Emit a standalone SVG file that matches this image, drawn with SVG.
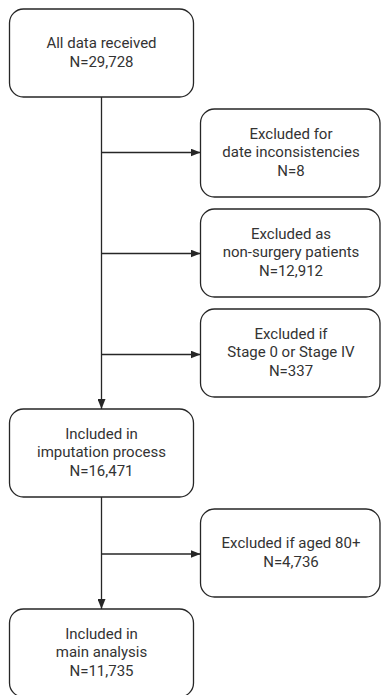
<svg xmlns="http://www.w3.org/2000/svg" width="381" height="695" viewBox="0 0 381 695">
<style>
.box{fill:#fff;stroke:#262626;stroke-width:1.3}
.t{font-family:Roboto,"Open Sans",sans-serif;font-size:15px;fill:#333;text-anchor:middle}
.c{fill:none;stroke:#262626;stroke-width:1.3}
</style>
<defs>
<marker id="ah" viewBox="0 0 10 8" refX="10" refY="4" markerWidth="10" markerHeight="8" markerUnits="userSpaceOnUse" orient="auto">
<path d="M0,0 L10,4 L0,8 Z" fill="#262626"/>
</marker>
</defs>
<rect width="381" height="695" fill="#fff"/>
<g id="connectors">
<path class="c" d="M101.5,97 V409" marker-end="url(#ah)"/>
<path class="c" d="M101.5,152.5 H200.5" marker-end="url(#ah)"/>
<path class="c" d="M101.5,253.5 H200.5" marker-end="url(#ah)"/>
<path class="c" d="M101.5,354.5 H200.5" marker-end="url(#ah)"/>
<path class="c" d="M101.5,497 V609" marker-end="url(#ah)"/>
<path class="c" d="M101.5,554 H200.5" marker-end="url(#ah)"/>
</g>
<g id="n1">
<rect class="box" x="9.5" y="9" width="184" height="88" rx="14"/>
<text class="t" x="101.5" y="48">All data received</text>
<text class="t" x="101.5" y="67">N=29,728</text>
</g>
<g id="n2">
<rect class="box" x="200.5" y="109" width="179.5" height="88" rx="14"/>
<text class="t" x="291" y="138.5">Excluded for</text>
<text class="t" x="291" y="157">date inconsistencies</text>
<text class="t" x="291" y="175.5">N=8</text>
</g>
<g id="n3">
<rect class="box" x="200.5" y="209" width="179.5" height="88" rx="14"/>
<text class="t" x="291" y="238.5">Excluded as</text>
<text class="t" x="291" y="257">non-surgery patients</text>
<text class="t" x="291" y="275.5">N=12,912</text>
</g>
<g id="n4">
<rect class="box" x="200.5" y="309" width="179.5" height="88" rx="14"/>
<text class="t" x="291" y="338.5">Excluded if</text>
<text class="t" x="291" y="357">Stage 0 or Stage IV</text>
<text class="t" x="291" y="375.5">N=337</text>
</g>
<g id="n5">
<rect class="box" x="9.5" y="409" width="184" height="88" rx="14"/>
<text class="t" x="101.5" y="438.5">Included in</text>
<text class="t" x="101.5" y="457">imputation process</text>
<text class="t" x="101.5" y="475.5">N=16,471</text>
</g>
<g id="n6">
<rect class="box" x="200.5" y="509" width="179.5" height="88" rx="14"/>
<text class="t" x="291" y="548">Excluded if aged 80+</text>
<text class="t" x="291" y="567">N=4,736</text>
</g>
<g id="n7">
<rect class="box" x="9.5" y="609" width="184" height="88" rx="14"/>
<text class="t" x="101.5" y="638.5">Included in</text>
<text class="t" x="101.5" y="657">main analysis</text>
<text class="t" x="101.5" y="675.5">N=11,735</text>
</g>
</svg>
